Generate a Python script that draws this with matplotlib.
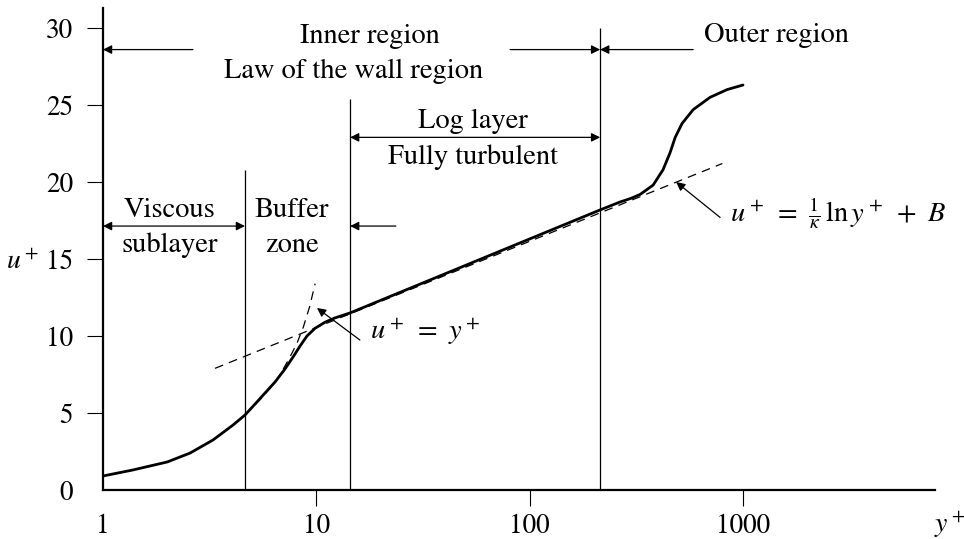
import numpy as np
import matplotlib.pyplot as plt

plt.rcParams['font.family'] = ['STIXGeneral', 'DejaVu Serif']
plt.rcParams['mathtext.fontset'] = 'stix'

# velocity profile u+ against y+
yplus_profile = [1, 1.38, 2.0, 2.56, 3.28, 4.07, 4.63, 5.16, 5.75, 6.4, 7.13, 7.78,
                 8.39, 9.04, 9.86, 11.0, 12.2, 14.4, 215, 265, 300, 330, 379, 422,
                 455, 481, 518, 584, 701, 842, 1000]
u_profile = [0.91, 1.30, 1.82, 2.40, 3.25, 4.22, 4.87, 5.58, 6.30, 7.01, 7.86, 8.64,
             9.35, 10.0, 10.5, 10.9, 11.17, 11.5, 18.2, 18.7, 18.95, 19.2, 19.8, 20.8,
             21.9, 22.9, 23.8, 24.7, 25.5, 26.0, 26.3]

# viscous sublayer law u+ = y+
yplus_visc = [4.63, 5.56, 6.5, 7.37, 8.1, 8.7, 9.3, 9.87]
u_visc = [4.87, 6.0, 7.1, 8.4, 9.5, 10.6, 11.9, 13.4]

# log law
yplus_log = [3.35, 800]
u_log = [7.9, 21.2]

# region boundaries (y+) and the height each line reaches
bound_y = [4.63, 14.4, 214]
bound_top = [20.8, 25.4, 30.0]

xticks = [1, 10, 100, 1000]
yticks = [0, 5, 10, 15, 20, 25, 30]

fig = plt.figure(figsize=(9.64, 5.39), dpi=100)
ax = fig.add_axes([103 / 964, 1 - 490 / 539, 832 / 964, 482 / 539])
ax.set_xscale('log')
ax.set_xlim(1, 7943)
ax.set_ylim(0, 31.3)

ax.plot(yplus_profile, u_profile, color='black', lw=2.0, solid_capstyle='round',
        solid_joinstyle='round', zorder=3)
ax.plot(yplus_visc, u_visc, color='black', lw=0.9, dashes=[7, 5], zorder=2)
ax.plot(yplus_log, u_log, color='black', lw=0.9, dashes=[7, 5], zorder=2)
ax.vlines(bound_y, 0, bound_top, color='black', lw=0.9)

for s in ['top', 'right']:
    ax.spines[s].set_visible(False)
for s in ['left', 'bottom']:
    ax.spines[s].set_linewidth(1.6)

ax.set_xticks(xticks)
ax.set_xticklabels([str(t) for t in xticks])
ax.set_yticks(yticks)
ax.minorticks_off()
ax.tick_params(axis='both', direction='out', length=11.5, width=0.8, labelsize=19.5)
ax.tick_params(axis='y', pad=10)
ax.tick_params(axis='x', pad=6)
ax.xaxis.get_major_ticks()[0].tick1line.set_visible(False)
ax.yaxis.get_major_ticks()[0].tick1line.set_visible(False)

fig.text(22 / 964, 1 - 262 / 539, r'$u^+$', fontsize=20, ha='center', va='center')
fig.text(950 / 964, 1 - 525 / 539, r'$y^+$', fontsize=20, ha='center', va='center')

fs = 20.5
arrow = dict(arrowstyle='-|>', color='black', lw=0.9, shrinkA=0, shrinkB=0, mutation_scale=13)
darrow = dict(arrowstyle='<|-|>', color='black', lw=0.9, shrinkA=0, shrinkB=0, mutation_scale=13)

# inner / outer region labels
ax.text(17.9, 29.0, 'Inner region', fontsize=fs, ha='center', va='baseline')
ax.text(15.0, 26.75, 'Law of the wall region', fontsize=fs, ha='center', va='baseline')
ax.text(1430, 29.1, 'Outer region', fontsize=fs, ha='center', va='baseline')
ax.annotate('', xy=(1, 28.6), xytext=(2.64, 28.6), arrowprops=arrow)
ax.annotate('', xy=(214, 28.6), xytext=(81, 28.6), arrowprops=arrow)
ax.annotate('', xy=(214, 28.6), xytext=(584, 28.6), arrowprops=arrow)

# log layer
ax.text(54.3, 23.5, 'Log layer', fontsize=fs, ha='center', va='baseline')
ax.text(54.3, 21.2, 'Fully turbulent', fontsize=fs, ha='center', va='baseline')
ax.annotate('', xy=(14.4, 22.9), xytext=(214, 22.9), arrowprops=darrow)

# viscous sublayer and buffer zone
ax.text(2.06, 17.7, 'Viscous', fontsize=fs, ha='center', va='baseline')
ax.text(2.06, 15.45, 'sublayer', fontsize=fs, ha='center', va='baseline')
ax.annotate('', xy=(1, 17.14), xytext=(4.63, 17.14), arrowprops=darrow)
ax.text(7.69, 17.7, 'Buffer', fontsize=fs, ha='center', va='baseline')
ax.text(7.69, 15.45, 'zone', fontsize=fs, ha='center', va='baseline')
ax.annotate('', xy=(14.4, 17.14), xytext=(23.6, 17.14), arrowprops=arrow)

# equation callouts
ax.annotate('', xy=(10.07, 11.82), xytext=(16.0, 9.74), arrowprops=arrow)
ax.text(17.9, 9.8, r'$u^+\ =\ y^+$', fontsize=fs, ha='left', va='baseline')
ax.annotate('', xy=(486, 20.0), xytext=(781, 17.7), arrowprops=arrow)
ax.text(870, 17.4, r'$u^+\ =\ \frac{1}{\kappa}\,\ln y^+\ +\ B$', fontsize=fs,
        ha='left', va='baseline')

fig.savefig('out.png', dpi=100)
